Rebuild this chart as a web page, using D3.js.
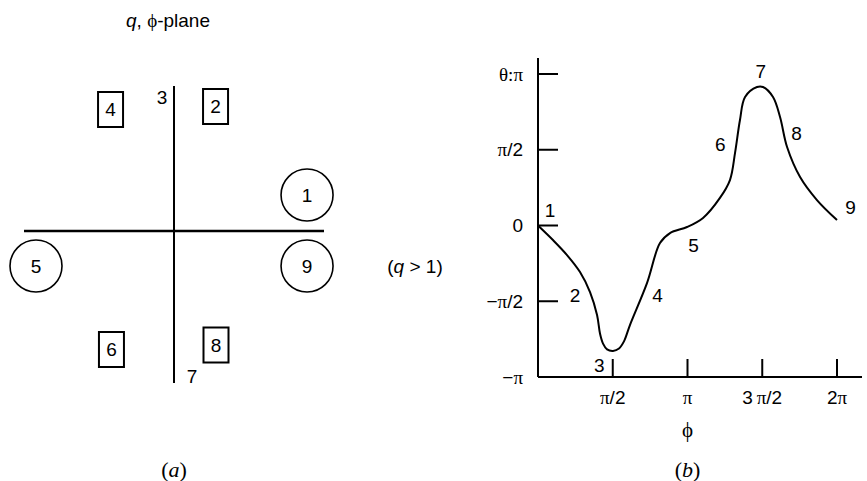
<!DOCTYPE html>
<html>
<head>
<meta charset="utf-8">
<script src="https://cdn.jsdelivr.net/npm/d3@7"></script>
<style>
  body { margin: 0; background: #fff; }
  svg { display: block; }
  text { font-family: "Liberation Sans", Arial, sans-serif; fill: #000; }
  .serif { font-family: "Liberation Serif", "Times New Roman", serif; }
</style>
</head>
<body>
<svg id="chart"></svg>
<script>
// (a) markers in the q,phi plane (x, y in plane units)
const planeMarkers = [
  { label: "1", shape: "circle", x: 0.887, y: 0.24 },
  { label: "2", shape: "box", x: 0.277, y: 0.83 },
  { label: "3", shape: "none", x: -0.08, y: 0.89 },
  { label: "4", shape: "box", x: -0.423, y: 0.81 },
  { label: "5", shape: "circle", x: -0.92, y: -0.233 },
  { label: "6", shape: "box", x: -0.417, y: -0.79 },
  { label: "7", shape: "none", x: 0.12, y: -0.97 },
  { label: "8", shape: "box", x: 0.28, y: -0.76 },
  { label: "9", shape: "circle", x: 0.887, y: -0.233 }
];

// (b) theta vs phi, both in units of pi
const phiVals = [0, 0.1, 0.194, 0.281, 0.348, 0.395, 0.415, 0.435, 0.462, 0.502, 0.542, 0.575, 0.615,
  0.729, 0.816, 0.883, 0.997, 1.104, 1.217, 1.284, 1.318, 1.351, 1.385, 1.465, 1.505,
  1.572, 1.619, 1.666, 1.753, 1.866, 2.0];
const thetaVals = [0, -0.096, -0.195, -0.307, -0.439, -0.591, -0.715, -0.78, -0.818, -0.828, -0.812, -0.765, -0.657,
  -0.38, -0.116, -0.05, -0.01, 0.05, 0.182, 0.3, 0.479, 0.696, 0.848, 0.914, 0.914,
  0.848, 0.716, 0.518, 0.32, 0.168, 0.036];

// numbers placed along the curve (phi, theta in units of pi)
const curveLabels = [
  { label: "1", phi: 0.08, theta: 0.1 },
  { label: "2", phi: 0.247, theta: -0.46 },
  { label: "3", phi: 0.41, theta: -0.92 },
  { label: "4", phi: 0.8, theta: -0.46 },
  { label: "5", phi: 1.04, theta: -0.13 },
  { label: "6", phi: 1.22, theta: 0.54 },
  { label: "7", phi: 1.49, theta: 1.02 },
  { label: "8", phi: 1.73, theta: 0.61 },
  { label: "9", phi: 2.09, theta: 0.12 }
];

const xTicks = [0.5, 1, 1.5, 2];
const xTickLabels = [["", "π", "/2"], ["", "π", ""], ["3\u2009", "π", "/2"], ["2", "π", ""]];
const yTicks = [1, 0.5, 0, -0.5, -1];
const yTickLabels = [["θ:", "π", ""], ["", "π", "/2"], ["0", "", ""], ["\u2212", "π", "/2"], ["\u2212", "π", ""]];

const width = 867, height = 481;
const fs = 19;
const svg = d3.select("#chart").attr("width", width).attr("height", height);

// sans text with a serif pi in the middle
function piText(sel, parts) {
  sel.append("tspan").attr("class", parts[0].startsWith("θ") ? "serif" : null).text(parts[0]);
  sel.append("tspan").attr("class", "serif").text(parts[1]);
  sel.append("tspan").text(parts[2]);
}

// ---------- panel (a) ----------
const xa = d3.scaleLinear().domain([-1, 1]).range([24, 324]);
const ya = d3.scaleLinear().domain([-1, 1]).range([381, 81]);

const pa = svg.append("g");

pa.append("line")
  .attr("x1", xa(-1)).attr("x2", xa(1))
  .attr("y1", ya(0)).attr("y2", ya(0))
  .attr("stroke", "#000").attr("stroke-width", 2.6);

pa.append("line")
  .attr("x1", xa(0)).attr("x2", xa(0))
  .attr("y1", ya(0.967)).attr("y2", ya(-1.013))
  .attr("stroke", "#000").attr("stroke-width", 2);

const mk = pa.selectAll(".mk").data(planeMarkers).join("g")
  .attr("class", "mk")
  .attr("transform", d => `translate(${xa(d.x)},${ya(d.y)})`);

mk.filter(d => d.shape === "circle").append("circle")
  .attr("r", 26).attr("fill", "none").attr("stroke", "#000").attr("stroke-width", 1.6);

mk.filter(d => d.shape === "box").append("rect")
  .attr("x", -12.5).attr("y", -17.5).attr("width", 25).attr("height", 35)
  .attr("fill", "none").attr("stroke", "#000").attr("stroke-width", 2);

mk.append("text")
  .attr("text-anchor", "middle").attr("dy", "0.36em")
  .attr("font-size", fs)
  .text(d => d.label);

pa.append("text")
  .attr("x", 168).attr("y", 27).attr("text-anchor", "middle").attr("font-size", fs)
  .call(t => {
    t.append("tspan").attr("font-style", "italic").text("q");
    t.append("tspan").text(", ");
    t.append("tspan").attr("class", "serif").text("ϕ");
    t.append("tspan").text("-plane");
  });

pa.append("text")
  .attr("class", "serif")
  .attr("x", 174).attr("y", 477).attr("text-anchor", "middle").attr("font-size", 22)
  .call(t => {
    t.append("tspan").text("(");
    t.append("tspan").attr("font-style", "italic").text("a");
    t.append("tspan").text(")");
  });

svg.append("text")
  .attr("x", 415).attr("y", 273).attr("text-anchor", "middle").attr("font-size", fs)
  .call(t => {
    t.append("tspan").text("(");
    t.append("tspan").attr("font-style", "italic").text("q");
    t.append("tspan").text(" > 1)");
  });

// ---------- panel (b) ----------
const x = d3.scaleLinear().domain([0, 2]).range([538, 837]);
const y = d3.scaleLinear().domain([-1, 1]).range([377, 74]);

const pb = svg.append("g");

// axes lines
pb.append("line")
  .attr("x1", x(0)).attr("x2", 862)
  .attr("y1", y(-1)).attr("y2", y(-1))
  .attr("stroke", "#000").attr("stroke-width", 2);
pb.append("line")
  .attr("x1", x(0)).attr("x2", x(0))
  .attr("y1", 58).attr("y2", y(-1))
  .attr("stroke", "#000").attr("stroke-width", 2);

// y ticks (inward, to the right)
pb.selectAll(".yt").data(yTicks.filter(v => v !== -1)).join("line")
  .attr("x1", x(0)).attr("x2", x(0) + 20)
  .attr("y1", d => y(d)).attr("y2", d => y(d))
  .attr("stroke", "#000").attr("stroke-width", 2);

pb.selectAll(".ytl").data(yTicks).join("text")
  .attr("x", 523).attr("y", d => y(d)).attr("dy", "0.35em")
  .attr("text-anchor", "end").attr("font-size", fs)
  .each(function(d, i) { piText(d3.select(this), yTickLabels[i]); });

// x ticks (inward, upward)
pb.selectAll(".xt").data(xTicks).join("line")
  .attr("x1", d => x(d)).attr("x2", d => x(d))
  .attr("y1", y(-1)).attr("y2", y(-1) - 18)
  .attr("stroke", "#000").attr("stroke-width", 2);

pb.selectAll(".xtl").data(xTicks).join("text")
  .attr("x", d => x(d)).attr("y", y(-1) + 27)
  .attr("text-anchor", "middle").attr("font-size", fs)
  .each(function(d, i) { piText(d3.select(this), xTickLabels[i]); });

// curve
const pts = phiVals.map((p, i) => [p, thetaVals[i]]);
const line = d3.line()
  .x(d => x(d[0])).y(d => y(d[1]))
  .curve(d3.curveCatmullRom.alpha(0.5));

pb.append("path")
  .attr("d", line(pts))
  .attr("fill", "none").attr("stroke", "#000").attr("stroke-width", 2);

pb.selectAll(".cl").data(curveLabels).join("text")
  .attr("x", d => x(d.phi)).attr("y", d => y(d.theta)).attr("dy", "0.36em")
  .attr("text-anchor", "middle").attr("font-size", fs)
  .text(d => d.label);

pb.append("text")
  .attr("class", "serif")
  .attr("x", x(1)).attr("y", 437).attr("text-anchor", "middle").attr("font-size", 21)
  .text("ϕ");

pb.append("text")
  .attr("class", "serif")
  .attr("x", x(1)).attr("y", 477).attr("text-anchor", "middle").attr("font-size", 22)
  .call(t => {
    t.append("tspan").text("(");
    t.append("tspan").attr("font-style", "italic").text("b");
    t.append("tspan").text(")");
  });
</script>
</body>
</html>
